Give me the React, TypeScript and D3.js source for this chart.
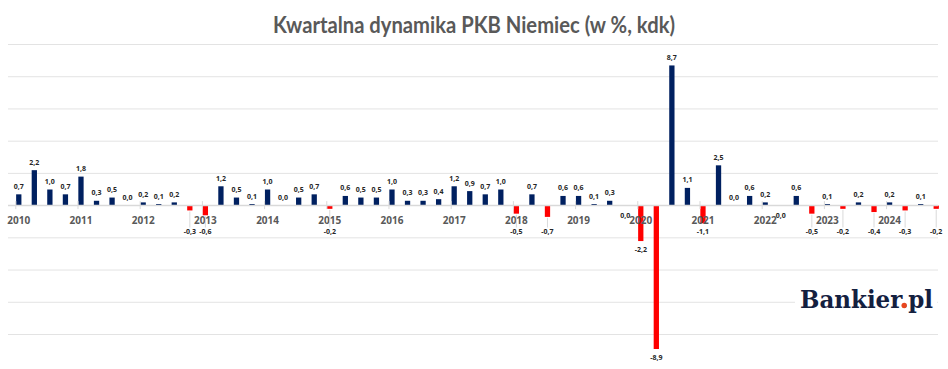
import React, { useEffect, useRef } from "react";
import * as d3 from "d3";

const title = "Kwartalna dynamika PKB Niemiec (w %, kdk)";
const years = ["2010", "2011", "2012", "2013", "2014", "2015", "2016", "2017", "2018", "2019", "2020", "2021", "2022", "2023", "2024"];
const quarters = ["Q1", "Q2", "Q3", "Q4"];
// q/q change in %, one value per quarter 2010 Q1 .. 2024 Q4
const gdpQoQ = [
  0.7, 2.2, 1.0, 0.7,
  1.8, 0.3, 0.5, 0.0,
  0.2, 0.1, 0.2, -0.3,
  -0.6, 1.2, 0.5, 0.1,
  1.0, 0.0, 0.5, 0.7,
  -0.2, 0.6, 0.5, 0.5,
  1.0, 0.3, 0.3, 0.4,
  1.2, 0.9, 0.7, 1.0,
  -0.5, 0.7, -0.7, 0.6,
  0.6, 0.1, 0.3, -0.04,
  -2.2, -8.9, 8.7, 1.1,
  -1.1, 2.5, 0.0, 0.6,
  0.2, -0.04, 0.6, -0.5,
  0.1, -0.2, 0.2, -0.4,
  0.2, -0.3, 0.1, -0.2,
];
const yTicks = [-8, -6, -4, -2, 0, 2, 4, 6, 8, 10];

const W = 948;
const H = 369;

function fmt(v: number) {
  if (Math.abs(v) < 0.05) return "0,0";
  return v.toFixed(1).replace(".", ",");
}

export default function App() {
  const ref = useRef<SVGSVGElement>(null);

  useEffect(() => {
    const svg = d3.select(ref.current);
    svg.selectAll("*").remove();

    const labels = years.flatMap((y) => quarters.map((q) => `${y} ${q}`));

    const x = d3
      .scaleBand<string>()
      .domain(labels)
      .range([11, 944])
      .paddingInner(0.66)
      .paddingOuter(0.33);

    const y = d3.scaleLinear().domain([-8, 10]).range([334.5, 44.5]);
    const y0 = y(0);
    const cx = (i: number) => (x(labels[i]) as number) + x.bandwidth() / 2;

    svg.append("rect").attr("width", W).attr("height", H).attr("fill", "#fff");

    // title
    svg
      .append("text")
      .attr("x", 273)
      .attr("y", 32.5)
      .attr("font-family", "Lato, 'Open Sans', sans-serif")
      .attr("font-weight", "bold")
      .attr("font-size", 22)
      .attr("fill", "#595959")
      .attr("textLength", 402)
      .attr("lengthAdjust", "spacingAndGlyphs")
      .text(title);

    // gridlines
    svg
      .append("g")
      .selectAll("line")
      .data(yTicks.filter((t) => t !== 0))
      .join("line")
      .attr("x1", 8)
      .attr("x2", 938)
      .attr("y1", (d) => y(d))
      .attr("y2", (d) => y(d))
      .attr("stroke", "#e3e3e3")
      .attr("stroke-width", 1);

    // bars (values that round to 0,0 are not drawn)
    svg
      .append("g")
      .selectAll("rect")
      .data(gdpQoQ)
      .join("rect")
      .attr("x", (d, i) => x(labels[i]) as number)
      .attr("width", x.bandwidth())
      .attr("y", (d) => Math.min(y(d), y0))
      .attr("height", (d) => (Math.abs(d) < 0.05 ? 0 : Math.abs(y(d) - y0)))
      .attr("fill", (d) => (d < 0 ? "#ff0000" : "#002060"));

    // x axis line + year ticks
    svg
      .append("line")
      .attr("x1", 8)
      .attr("x2", 938)
      .attr("y1", y0)
      .attr("y2", y0)
      .attr("stroke", "#d9d9d9")
      .attr("stroke-width", 1.5);

    const yearIdx = years.map((_, k) => k * 4);
    svg
      .append("g")
      .selectAll("line")
      .data(yearIdx)
      .join("line")
      .attr("x1", (i) => cx(i) - 3)
      .attr("x2", (i) => cx(i) - 3)
      .attr("y1", y0 - 4.5)
      .attr("y2", y0 + 3.5)
      .attr("stroke", "#d9d9d9");

    svg
      .append("g")
      .selectAll("text")
      .data(yearIdx)
      .join("text")
      .attr("x", (i) => cx(i))
      .attr("y", y0 + 18)
      .attr("text-anchor", "middle")
      .attr("font-family", "'Open Sans', sans-serif")
      .attr("font-weight", "bold")
      .attr("font-size", 10)
      .attr("fill", "#595959")
      .text((i) => years[i / 4]);

    // data labels
    const lblY = (d: number) => {
      if (d >= 0) return y(d) - 5.5;
      if (d > -0.05) return y0 + 12.5;
      return Math.max(y(d) + 6, 229) + 5;
    };

    // leader lines for negative labels pushed below the axis labels
    svg
      .append("g")
      .selectAll("line")
      .data(gdpQoQ.map((d, i) => ({ d, i })).filter(({ d }) => d <= -0.05 && lblY(d) - 5 - y(d) > 8))
      .join("line")
      .attr("x1", ({ i }) => cx(i))
      .attr("x2", ({ i }) => cx(i))
      .attr("y1", ({ d }) => y(d) + 1)
      .attr("y2", ({ d }) => lblY(d) - 6.5)
      .attr("stroke", "#d0d0d0")
      .attr("stroke-width", 0.8);

    svg
      .append("g")
      .selectAll("text")
      .data(gdpQoQ)
      .join("text")
      .attr("x", (d, i) => cx(i))
      .attr("y", (d) => lblY(d))
      .attr("text-anchor", "middle")
      .attr("font-family", "'Open Sans', sans-serif")
      .attr("font-weight", "bold")
      .attr("font-size", 7)
      .attr("fill", "#262626")
      .text((d) => fmt(d));

    // logo
    svg
      .append("rect")
      .attr("x", 795)
      .attr("y", 286)
      .attr("width", 142)
      .attr("height", 29)
      .attr("fill", "#fff");
    const logo = svg
      .append("text")
      .attr("x", 800)
      .attr("y", 308)
      .attr("font-family", "'DejaVu Serif', serif")
      .attr("font-weight", "bold")
      .attr("font-size", 24)
      .attr("fill", "#14203f")
      .attr("textLength", 133)
      .attr("lengthAdjust", "spacingAndGlyphs")
      .text("Bankier.pl");
    // orange dot over the period
    const node = logo.node() as SVGTextElement;
    let dotX = 904;
    try {
      const ext = node.getExtentOfChar(7);
      dotX = ext.x + ext.width / 2;
    } catch (e) {}
    svg
      .append("circle")
      .attr("cx", dotX)
      .attr("cy", 305.5)
      .attr("r", 2.7)
      .attr("fill", "#e8461e");
  }, []);

  return (
    <svg
      ref={ref}
      width={W}
      height={H}
      style={{ position: "absolute", left: 0, top: 0 }}
    ></svg>
  );
}
